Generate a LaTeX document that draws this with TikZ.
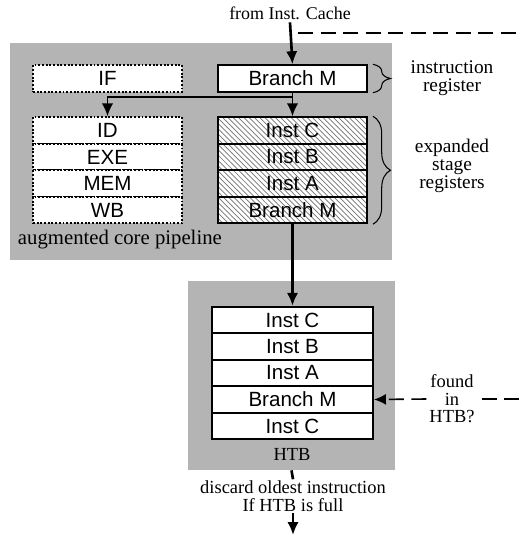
\documentclass[tikz,border=0pt]{standalone}
\usepackage{fontspec}
\setmainfont{Liberation Serif}
\newfontfamily\boxfont{Liberation Sans}
\usetikzlibrary{arrows.meta,patterns,decorations.pathreplacing}
\definecolor{bggray}{RGB}{180,180,180}
\tikzset{
  regbase/.style={draw, line width=1.1pt, minimum width=2.98cm, minimum height=0.53cm,
    inner sep=0pt, font=\boxfont\fontsize{11.7}{12}\selectfont},
  reg/.style={regbase, fill=white},
  pipereg/.style={regbase, fill=white, densely dotted},
  stagereg/.style={regbase, preaction={fill=white}, pattern=north west lines, pattern color=black!55},
  area/.style={fill=bggray, inner sep=0pt},
  lbl/.style={align=center, inner sep=1.5pt, font=\rmfamily\fontsize{10.5}{10.3}\selectfont},
  side/.style={lbl, font=\rmfamily\fontsize{11}{10.3}\selectfont},
  flow/.style={line width=1.5pt, -{Latex[length=0.26cm,width=0.23cm]}},
  ask/.style={line width=0.9pt, dash pattern=on 0.3cm off 0.15cm},
  curly/.style={decorate, decoration={brace, amplitude=0.35cm}, line width=0.6pt}
}
\begin{document}
\begin{tikzpicture}
\useasboundingbox (0,0) rectangle (10.38,10.76);
% shaded areas
\node[area, minimum width=7.64cm, minimum height=4.34cm] (core) at (4.02,7.73) {};
\node[area, minimum width=4.14cm, minimum height=3.78cm] (htbarea) at (5.83,3.25) {};
% core pipeline
\node[pipereg] (if) at (2.15,9.19) {IF};
\node[pipereg] (id) at (2.15,8.15) {ID};
\node[pipereg] (exe) at (2.15,7.62) {EXE};
\node[pipereg] (mem) at (2.15,7.09) {MEM};
\node[pipereg] (wb) at (2.15,6.56) {WB};
\node[reg] (ir) at (5.85,9.19) {Branch M};
\node[stagereg] (sc) at (5.85,8.15) {Inst C};
\node[stagereg] (sb) at (5.85,7.62) {Inst B};
\node[stagereg] (sa) at (5.85,7.09) {Inst A};
\node[stagereg] (sbm) at (5.85,6.56) {Branch M};
\node[lbl, anchor=west, font=\rmfamily\fontsize{11.8}{12}\selectfont] (aug) at (0.3,5.96) {augmented core pipeline};
% HTB
\node[reg, minimum width=3.22cm] (h1) at (5.85,4.36) {Inst C};
\node[reg, minimum width=3.22cm] (h2) at (5.85,3.83) {Inst B};
\node[reg, minimum width=3.22cm] (h3) at (5.85,3.30) {Inst A};
\node[reg, minimum width=3.22cm] (h4) at (5.85,2.77) {Branch M};
\node[reg, minimum width=3.22cm] (h5) at (5.85,2.24) {Inst C};
\node[lbl] (htb) at (5.84,1.68) {HTB};
% labels
\node[lbl, font=\rmfamily\fontsize{10.2}{10}\selectfont] (cache) at (5.8,10.5) {from Inst. Cache};
\node[side] (irlbl) at (9.04,9.2) {instruction\\register};
\node[side] (srlbl) at (9.04,7.44) {expanded\\stage\\registers};
\node[lbl, font=\rmfamily\fontsize{10.5}{9.9}\selectfont] (found) at (9.04,2.78) {found\\in\\HTB?};
\node[lbl, inner sep=0.5pt] (discard) at (5.86,0.84) {discard oldest instruction\\If HTB is full};
\coordinate (tapin) at (5.96,10.1);
\coordinate (tapout) at (10.38,10.1);
\coordinate (feedin) at (10.38,2.78);
\coordinate (sink) at (5.86,0.06);
% braces
\draw[curly] ([xshift=0.1cm]ir.north east) -- ([xshift=0.1cm]ir.south east);
\draw[curly] ([xshift=0.1cm]sc.north east) -- ([xshift=0.1cm]sbm.south east);
% connectors
\draw[flow] (cache.south) -- (ir.north);
\draw[ask] (tapin) -- (tapout);
\draw[flow, line width=1pt] (ir.south) -- (sc.north);
\draw[flow, line width=1pt] (ir.south) -- ++(0,-0.08) -| (id.north);
\draw[flow] (sbm.south) -- (h1.north);
\draw[line width=1.5pt] (htbarea.south) -- (discard.north);
\draw[flow] (discard.south) -- (sink);
\draw[ask] (feedin) -- (found.east);
\draw[ask, -{Latex[length=0.24cm,width=0.22cm]}] (found.west) -- (h4.east);
\end{tikzpicture}
\end{document}
